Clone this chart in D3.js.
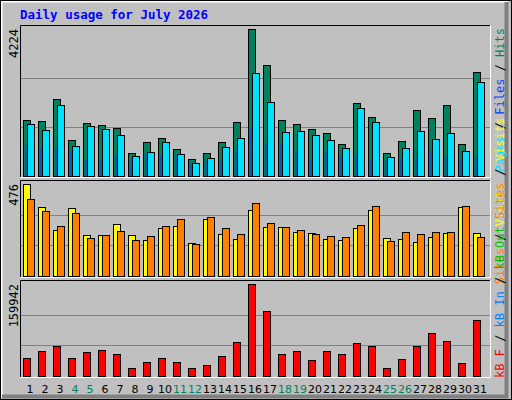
<!DOCTYPE html><html><head><meta charset="utf-8"><script src="https://cdn.jsdelivr.net/npm/d3@7"></script>
<style>body{margin:0}svg{display:block}</style></head><body><script>
const days=d3.range(1,32);
const weekend=[4,5,11,12,18,19,25,26];
const hits=[1609,1580,2212,1034,1523,1465,1379,661,977,1092,776,488,661,977,1551,4224,3189,1609,1494,1350,1235,919,2097,1695,661,1006,1896,1666,2040,919,2988];
const files=[1494,1322,2040,862,1437,1350,1178,575,690,977,632,374,517,833,1092,2959,2126,1264,1293,1178,1034,804,1954,1551,546,804,1293,1063,1235,718,2701];
const pages=[891,833,804,718,488,460,632,431,661,603,632,374,460,431,804,1408,948,919,690,488,718,603,603,488,460,517,517,747,575,517,546];
const visits=[476,357,238,352,212,212,269,212,186,248,259,171,295,217,191,341,253,253,228,222,191,186,248,341,197,191,176,202,222,357,222];
const sites=[398,336,259,326,197,212,233,186,207,259,295,166,305,248,217,378,274,253,238,217,207,202,264,362,181,228,217,228,228,362,202];
const kbytes=[32104,42611,51366,32104,40860,44363,39109,14593,25100,32104,25100,14593,19847,35606,58371,159942,112659,39109,42611,28602,42611,39109,56620,51366,14593,30353,51366,74132,60123,23349,96898];

const W=512,H=400,L=20,R=490;
const svg=d3.select("body").append("svg").attr("width",W).attr("height",H);
svg.append("rect").attr("width",W).attr("height",H).attr("fill","#c0c0c0");
// 3D frame
svg.append("path").attr("d","M1.5,398V1.5H508").attr("stroke","#fff").attr("stroke-width",2).attr("fill","none");
svg.append("path").attr("d","M2,396.5H506.5V2").attr("stroke","#808080").attr("stroke-width",4).attr("fill","none");
svg.append("rect").attr("x",0.5).attr("y",0.5).attr("width",511).attr("height",399).attr("fill","none").attr("stroke","#000");
svg.append("text").attr("x",20).attr("y",19).text("Daily usage for July 2026")
 .attr("font-family","DejaVu Sans Mono").attr("font-weight","bold").attr("font-size",12.5).attr("fill","#0000ff");

const x=d3.scaleBand().domain(days).range([L+3,L+3+15*31]).paddingInner(0);
const mono="DejaVu Sans Mono";
function panel(y0,y1,max,label,series,rightLabels){
  const y=d3.scaleLinear().domain([0,max]).range([y1,y0+4]);
  svg.append("rect").attr("x",L).attr("y",y0).attr("width",R-L).attr("height",y1-y0+1).attr("fill","#c0c0c0");
  [1,2].forEach(k=>{const gy=Math.round(y1-(y1-y0-4)*k/3)+0.5;
    svg.append("line").attr("x1",L).attr("x2",R).attr("y1",gy).attr("y2",gy).attr("stroke","#808080");});
  series.forEach(s=>{
    svg.append("g").selectAll("rect").data(s.data).join("rect")
      .attr("x",(d,i)=>x(days[i])+s.dx+0.5).attr("width",s.w)
      .attr("y",d=>Math.round(y(d))+0.5).attr("height",d=>y1-Math.round(y(d)))
      .attr("fill",s.c).attr("stroke",s.stroke?"#000":"none");
  });
  svg.append("path").attr("d",`M${L+0.5},${y1+1}V${y0+0.5}H${R}`).attr("stroke","#000").attr("fill","none");
  svg.append("path").attr("d",`M${L},${y1+1.5}H${R+0.5}V${y0}`).attr("stroke","#fff").attr("fill","none");
  svg.append("text").attr("transform",`translate(18,${y0+4}) rotate(-90)`).attr("text-anchor","end")
    .attr("font-family",mono).attr("font-size",12).attr("fill","#000").text(label);
  const t=svg.append("text").attr("transform",`translate(504,${y0+3}) rotate(-90)`).attr("text-anchor","end")
    .attr("font-family",mono).attr("font-size",12);
  rightLabels.forEach(r=>t.append("tspan").attr("fill",r[1]).text(r[0]));
}
panel(25,176,4224,"4224",[
 {data:hits,dx:0,w:7,c:"#00805c",stroke:1},
 {data:files,dx:4,w:7,c:"#00e0ff",stroke:1},
 {data:pages,dx:2,w:1,c:"#0040ff",stroke:0}],
 [["Pages","#00e0ff"],[" / ","#000"],["Files","#0040ff"],[" / ","#000"],["Hits","#00805c"]]);
panel(180,276,476,"476",[
 {data:visits,dx:0,w:7,c:"#ffff00",stroke:1},
 {data:sites,dx:4,w:7,c:"#ff8000",stroke:1}],
 [["kB F","#ff0000"],[" / ","#000"],["kB In","#0080ff"],[" / ","#000"],["kB Out","#00c000"],[" ","#000"],["Sites","#ff8000"],[" / ","#000"],["Visits","#ffff00"]]
 .slice(5));
panel(280,376,159942,"159942",[
 {data:kbytes,dx:0,w:7,c:"#ff0000",stroke:1}],[]);
// right-side combined label for lower two panels
const t2=svg.append("text").attr("transform",`translate(504,378) rotate(-90)`).attr("font-family",mono).attr("font-size",12);
[["kB F","#ff0000"],[" / ","#000"],["kB In","#0080ff"],[" / ","#000"],["kB Out","#00c000"],[" ","#000"],["Sites","#ff8000"],[" / ","#000"],["Visits","#ffff00"]]
 .forEach(r=>t2.append("tspan").attr("fill",r[1]).text(r[0]));
svg.selectAll("text").filter(function(){return this.textContent==="Sites / Visits"}).remove();
svg.append("g").selectAll("text").data(days).join("text")
 .attr("x",d=>x(d)+7).attr("y",393).attr("text-anchor","middle")
 .attr("font-family","DejaVu Sans").attr("font-size",11)
 .attr("fill",d=>weekend.includes(d)?"#00805c":"#000").text(d=>d);
</script></body></html>
